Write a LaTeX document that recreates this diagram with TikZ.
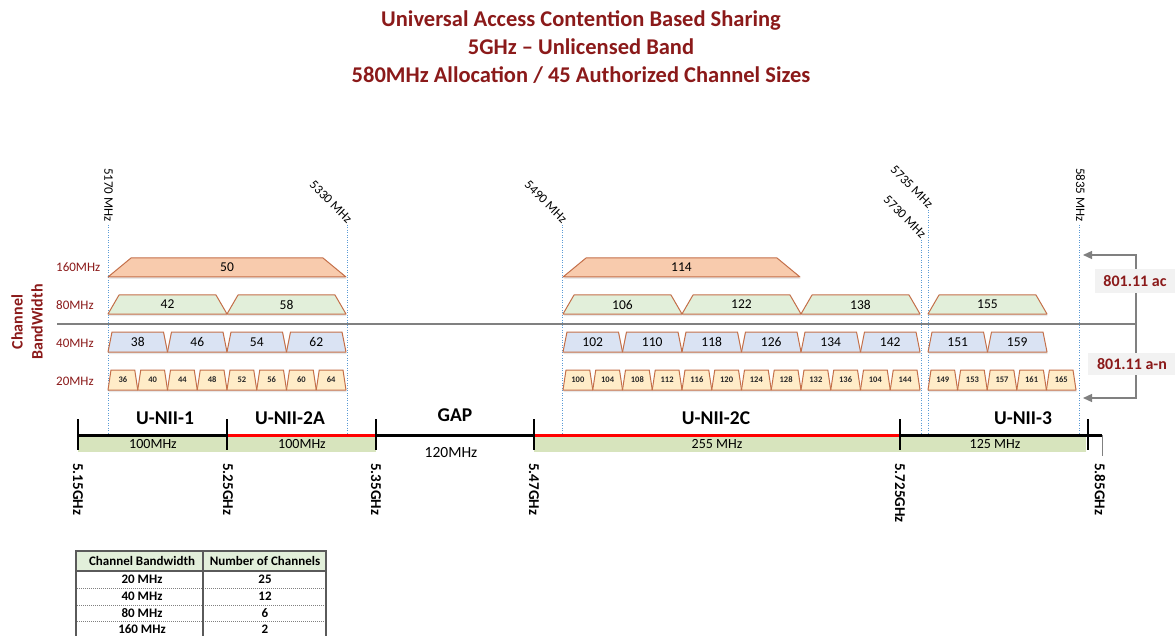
\documentclass[tikz,border=0pt]{standalone}
\usepackage{fontspec}
\setmainfont{Carlito}
\usetikzlibrary{arrows.meta,shadows}
\definecolor{dred}{RGB}{139,26,26}
\definecolor{chborder}{RGB}{196,112,74}
\definecolor{c160}{RGB}{248,203,173}
\definecolor{c80}{RGB}{226,239,218}
\definecolor{c40}{RGB}{218,227,243}
\definecolor{c20}{RGB}{255,236,200}
\definecolor{bandgreen}{RGB}{215,228,189}
\definecolor{fblue}{RGB}{91,155,213}
\definecolor{midgray}{RGB}{128,128,128}
\definecolor{tabgray}{RGB}{90,90,90}
\definecolor{hdrgreen}{RGB}{226,239,218}
\definecolor{boxgray}{RGB}{242,242,242}
\newcommand\fs[1]{\fontsize{#1}{#1}\selectfont}
\newcommand\chshape[8]{%
  \draw[#6] (#1,#4) -- ({#1+#5},#3) -- ({#2-#5},#3) -- (#2,#4) -- cycle;
  \node[#7] (#8) at ({(#1+#2)/2},{(#3+#4)/2}) {#8};}
\begin{document}
\begin{tikzpicture}[x=1pt,y=-1pt,
  titletext/.style={font=\fs{22.5}\bfseries, text=dred, inner sep=0pt},
  rowlab/.style={font=\fs{13}, text=dred, anchor=west, inner sep=0pt},
  chbase/.style={draw=chborder, line width=1pt, line join=round,
     drop shadow={shadow xshift=0.6pt, shadow yshift=-2pt, opacity=0.18, fill=gray}},
  ch160/.style={chbase, fill=c160},
  ch80/.style={chbase, fill=c80},
  ch40/.style={chbase, fill=c40},
  ch20/.style={chbase, fill=c20},
  lab/.style={font=\fs{13.5}, inner sep=0pt},
  labsmall/.style={font=\fs{8.5}\bfseries, inner sep=0pt, text=black!85},
  fline/.style={draw=fblue, line width=0.9pt, dash pattern=on 0.9pt off 1.6pt},
  topfreq/.style={font=\fs{13}, inner sep=0pt},
  botfreq/.style={font=\fs{15}\bfseries, inner sep=0pt, rotate=-90, anchor=west},
  bandname/.style={font=\fs{19.5}\bfseries, inner sep=0pt},
  bandwidth/.style={font=\fs{14}, inner sep=0pt},
  axisblack/.style={line width=3pt, black},
  axisred/.style={line width=3pt, red},
  tick/.style={line width=2pt, black},
  grayline/.style={draw=midgray, line width=1.3pt},
  stdbox/.style={fill=boxgray, font=\fs{16}\bfseries, text=dred, inner sep=0pt},
  tabtext/.style={font=\fs{13}\bfseries, inner sep=0pt}
]
\clip (0,0) rectangle (1175,636);
\fill[white] (0,0) rectangle (1175,636);

% Title
\node[titletext] (t1) at (581,20) {Universal Access Contention Based Sharing};
\node[titletext] (t2) at (581,47) {5GHz – Unlicensed Band};
\node[titletext] (t3) at (581,75) {580MHz Allocation / 45 Authorized Channel Sizes};

% gray separator line
\coordinate (hl) at (57,324);
\coordinate (hr) at (1136,324);
\draw[grayline] (hl) -- (hr);

% frequency marker lines
\coordinate (f1t) at (108,225);  \coordinate (f1b) at (108,433);
\coordinate (f2t) at (347,225);  \coordinate (f2b) at (347,433);
\coordinate (f3t) at (562,225);  \coordinate (f3b) at (562,433);
\coordinate (f4t) at (921,240);  \coordinate (f4b) at (921,433);
\coordinate (f5t) at (928,210);  \coordinate (f5b) at (928,433);
\coordinate (f6t) at (1079,225); \coordinate (f6b) at (1079,433);
\foreach \k in {1,...,6} {\draw[fline] (f\k t) -- (f\k b);}

\node[topfreq, rotate=-90, anchor=east] (l5170) at (108.5,222) {5170 MHz};
\node[topfreq, rotate=-90, anchor=east] (l5835) at (1080.5,222) {5835 MHz};
\node[topfreq, rotate=-45, anchor=east] (l5330) at (350,221) {5330 MHz};
\node[topfreq, rotate=-45, anchor=east] (l5490) at (565,221) {5490 MHz};
\node[topfreq, rotate=-45, anchor=east] (l5735) at (931,206) {5735 MHz};
\node[topfreq, rotate=-45, anchor=east] (l5730) at (924,236) {5730 MHz};

% row labels
\node[rowlab] (r160) at (56,267) {160MHz};
\node[rowlab] (r80) at (56,305) {80MHz};
\node[rowlab] (r40) at (56,343) {40MHz};
\node[rowlab] (r20) at (56,381) {20MHz};
\node[font=\fs{16}\bfseries, text=dred, rotate=90, align=center, inner sep=0pt,
      text width=90pt] (cbw) at (27,322) {Channel\\[4pt]BandWidth};

% 160 MHz
\chshape{108}{346}{258}{277}{23}{ch160}{lab}{50}
\chshape{563}{800}{258}{277}{23}{ch160}{lab}{114}

% 80 MHz
\foreach \lab [count=\i from 0] in {42,58} {
  \pgfmathsetmacro\xa{108+\i*119}\pgfmathsetmacro\xb{\xa+119}
  \chshape{\xa}{\xb}{295}{314}{11}{ch80}{lab}{\lab}}
\foreach \lab [count=\i from 0] in {106,122,138} {
  \pgfmathsetmacro\xa{563+\i*119}\pgfmathsetmacro\xb{\xa+119}
  \chshape{\xa}{\xb}{295}{314}{11}{ch80}{lab}{\lab}}
\chshape{928}{1047}{295}{314}{11}{ch80}{lab}{155}

% 40 MHz
\foreach \lab [count=\i from 0] in {38,46,54,62} {
  \pgfmathsetmacro\xa{108+\i*59.5}\pgfmathsetmacro\xb{\xa+59.5}
  \chshape{\xa}{\xb}{332}{352}{4}{ch40}{lab}{\lab}}
\foreach \lab [count=\i from 0] in {102,110,118,126,134,142} {
  \pgfmathsetmacro\xa{563+\i*59.5}\pgfmathsetmacro\xb{\xa+59.5}
  \chshape{\xa}{\xb}{332}{352}{4}{ch40}{lab}{\lab}}
\foreach \lab [count=\i from 0] in {151,159} {
  \pgfmathsetmacro\xa{928+\i*59.5}\pgfmathsetmacro\xb{\xa+59.5}
  \chshape{\xa}{\xb}{332}{352}{4}{ch40}{lab}{\lab}}

% 20 MHz
\foreach \lab [count=\i from 0] in {36,40,44,48,52,56,60,64} {
  \pgfmathsetmacro\xa{108+\i*29.75}\pgfmathsetmacro\xb{\xa+29.75}
  \chshape{\xa}{\xb}{370}{390}{3}{ch20}{labsmall}{\lab}}
\foreach \lab [count=\i from 0] in {100,104,108,112,116,120,124,128,132,136,104,144} {
  \pgfmathsetmacro\xa{563+\i*29.75}\pgfmathsetmacro\xb{\xa+29.75}
  \chshape{\xa}{\xb}{370}{390}{3}{ch20}{labsmall}{\lab}}
\foreach \lab [count=\i from 0] in {149,153,157,161,165} {
  \pgfmathsetmacro\xa{928+\i*29.6}\pgfmathsetmacro\xb{\xa+29.6}
  \chshape{\xa}{\xb}{370}{390}{3}{ch20}{labsmall}{\lab}}

% right bracket
\coordinate (bt) at (1136,255);
\coordinate (bb) at (1136,398);
\coordinate (tipT) at (1083,255);
\coordinate (tipB) at (1083,398);
\draw[grayline, {Triangle[length=9pt,width=8pt]}-{Triangle[length=9pt,width=8pt]}]
  (tipT) -- (bt) -- (bb) -- (tipB);
\node[stdbox, minimum width=80pt, minimum height=24pt] (ac) at (1135,281) {801.11 ac};
\node[stdbox, minimum width=88pt, minimum height=22pt] (an) at (1132,364) {801.11 a-n};

% axis
\coordinate (a0) at (78,435);
\coordinate (a1) at (227,435);
\coordinate (a2) at (376,435);
\coordinate (a3) at (534,435);
\coordinate (a4) at (900,435);
\coordinate (a5) at (1088,435);
\coordinate (aend) at (1102,435);
\fill[bandgreen] (78,435) rectangle (376,452);
\fill[bandgreen] (534,435) rectangle (1086,452);
\draw[axisblack] (a0) -- (a1);
\draw[axisred] (a1) -- (a2);
\draw[axisblack] (a2) -- (a3);
\draw[axisred] (a3) -- (a4);
\draw[axisblack] (a4) -- (aend);
\foreach \k in {0,...,5} {\draw[tick] ([yshift=16pt]a\k) -- ([yshift=-15pt]a\k);}
\coordinate (gend) at (1102,456);
\draw[draw=midgray, line width=1pt] (aend) -- (gend);

% band names
\node[bandname] (u1) at (165,418) {U-NII-1};
\node[bandname] (u2a) at (290,418) {U-NII-2A};
\node[bandname] (gap) at (455,415) {GAP};
\node[bandname] (u2c) at (716,418) {U-NII-2C};
\node[bandname] (u3) at (1023,418) {U-NII-3};
\node[bandwidth] (w1) at (153,444) {100MHz};
\node[bandwidth] (w2) at (302,444) {100MHz};
\node[bandwidth, font=\fs{15.5}] (w3) at (451,453) {120MHz};
\node[bandwidth] (w4) at (717,444) {255 MHz};
\node[bandwidth] (w5) at (995,444) {125 MHz};

% bottom frequency labels
\node[botfreq] (g1) at (78,463) {5.15GHz};
\node[botfreq] (g2) at (228,463) {5.25GHz};
\node[botfreq] (g3) at (376,463) {5.35GHz};
\node[botfreq] (g4) at (534,463) {5.47GHz};
\node[botfreq] (g5) at (900,463) {5.725GHz};
\node[botfreq] (g6) at (1100,463) {5.85GHz};

% table
\fill[hdrgreen] (76,551) rectangle (326,571);
\foreach \yy in {588,605,621,640} {\draw[gray, line width=0.7pt, dash pattern=on 1pt off 1pt] (77,\yy) -- (325,\yy);}
\draw[tabgray, line width=1.2pt] (76,571) -- (326,571);
\draw[tabgray, line width=1.2pt] (203,551) -- (203,645);
\draw[tabgray, line width=2pt] (76,551) rectangle (326,645);
\node[tabtext] (h1) at (142,561) {Channel Bandwidth};
\node[tabtext] (h2) at (265,561) {Number of Channels};
\node[tabtext] (c1) at (142,579.5) {20 MHz};   \node[tabtext] (n1) at (265,579.5) {25};
\node[tabtext] (c2) at (142,596.5) {40 MHz};   \node[tabtext] (n2) at (265,596.5) {12};
\node[tabtext] (c3) at (142,613) {80 MHz};     \node[tabtext] (n3) at (265,613) {6};
\node[tabtext] (c4) at (142,629) {160 MHz};    \node[tabtext] (n4) at (265,629) {2};
\end{tikzpicture}
\end{document}
